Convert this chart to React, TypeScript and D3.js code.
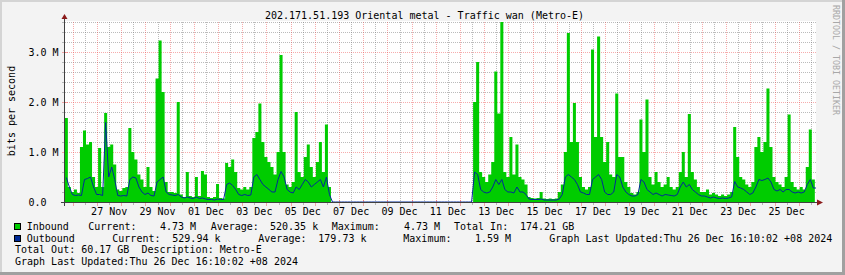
import React from 'react';
import * as d3 from 'd3';

const W = 845;
const H = 275;

const TITLE = '202.171.51.193 Oriental metal - Traffic wan (Metro-E)';
const Y_LABEL = 'bits per second';
const WATERMARK = 'RRDTOOL / TOBI OETIKER';

// time window (UTC used as wall clock)
const START = Date.UTC(2024, 10, 25, 16, 10);
const END = Date.UTC(2024, 11, 26, 16, 10);
const DATA_START = Date.UTC(2024, 10, 25, 16, 0);
const STEP_HOURS = 3;

// Inbound traffic, Mbit/s, one value per 3 hours
const INBOUND = [
  1.68, 0.3, 0.2, 0.25, 0.18, 1.1, 1.43, 1.15, 1.2, 0.5,
  0.3, 1.08, 0.3, 1.78, 1.1, 1.15, 0.75, 0.25, 0.22, 0.28,
  0.3, 1.48, 1.0, 0.85, 0.55, 0.45, 0.3, 0.7, 0.3, 0.22,
  2.47, 3.23, 2.2, 0.4, 0.2, 0.2, 0.18, 2.0, 0.15, 0.1,
  0.6, 0.12, 0.1, 0.5, 0.12, 0.62, 0.55, 0.1, 0.08, 0.1,
  0.36, 0.08, 0.07, 0.78, 0.7, 0.85, 0.6, 0.28, 0.25, 0.3,
  0.25, 0.3, 1.28, 1.4, 1.97, 1.2, 0.9, 0.8, 0.7, 0.55,
  1.0, 2.94, 1.0, 0.35, 0.3, 0.4, 1.8, 0.6, 0.5, 0.9,
  1.15, 0.7, 0.5, 0.8, 1.2, 0.6, 1.55, 0.3, 0, 0,
  0, 0, 0, 0, 0, 0, 0, 0, 0, 0,
  0, 0, 0, 0, 0, 0, 0, 0, 0, 0,
  0, 0, 0, 0, 0, 0, 0, 0, 0, 0,
  0, 0, 0, 0, 0, 0, 0, 0, 0, 0,
  0, 0, 0, 0, 0, 2.0, 2.8, 0.6, 0.5, 0.4,
  0.55, 0.8, 2.61, 1.77, 3.6, 0.6, 0.5, 1.3, 0.55, 1.15,
  0.5, 0.45, 0.35, 0.1, 0.08, 0.07, 0.08, 0.2, 0.07, 0.06,
  0.07, 0.06, 0.07, 0.2, 0.35, 1.0, 3.38, 1.2, 1.98, 1.2,
  0.5, 0.3, 0.25, 0.3, 3.05, 1.3, 3.31, 1.3, 0.8, 1.2,
  0.55, 0.5, 2.17, 0.9, 0.9, 0.4, 0.3, 0.18, 0.15, 0.2,
  1.65, 1.0, 2.05, 0.5, 0.35, 0.6, 0.4, 0.3, 0.35, 0.5,
  0.3, 0.25, 0.3, 0.6, 1.0, 0.5, 1.76, 0.6, 0.45, 0.3,
  0.2, 0.2, 0.25, 0.15, 0.18, 0.15, 0.12, 0.15, 0.12, 0.15,
  0.2, 1.5, 0.9, 0.5, 0.45, 0.35, 0.3, 0.4, 1.1, 1.3,
  1.0, 1.2, 2.27, 1.1, 0.5, 0.4, 0.35, 0.3, 0.5, 1.75,
  0.4, 0.3, 0.25, 0.3, 0.25, 0.7, 1.45, 0.45, 0.45,
];

// Outbound traffic, Mbit/s, one value per 3 hours
const OUTBOUND = [
  0.49, 0.3, 0.15, 0.13, 0.14, 0.13, 0.45, 0.47, 0.5, 0.3,
  0.15, 0.15, 0.13, 1.59, 0.5, 0.7, 0.45, 0.13, 0.12, 0.13,
  0.12, 0.45, 0.5, 0.48, 0.3, 0.2, 0.15, 0.18, 0.13, 0.12,
  0.4, 0.45, 0.5, 0.2, 0.15, 0.14, 0.13, 0.15, 0.1, 0.08,
  0.1, 0.08, 0.07, 0.1, 0.07, 0.08, 0.06, 0.05, 0.05, 0.04,
  0.06, 0.05, 0.05, 0.35, 0.38, 0.33, 0.25, 0.15, 0.13, 0.15,
  0.13, 0.14, 0.5, 0.55, 0.45, 0.35, 0.3, 0.25, 0.2, 0.2,
  0.45, 0.61, 0.5, 0.25, 0.2, 0.18, 0.3, 0.25, 0.35, 0.45,
  0.4, 0.3, 0.35, 0.4, 0.45, 0.3, 0.5, 0.15, 0, 0,
  0, 0, 0, 0, 0, 0, 0, 0, 0, 0,
  0, 0, 0, 0, 0, 0, 0, 0, 0, 0,
  0, 0, 0, 0, 0, 0, 0, 0, 0, 0,
  0, 0, 0, 0, 0, 0, 0, 0, 0, 0,
  0, 0, 0, 0, 0, 0.6, 0.55, 0.25, 0.2, 0.18,
  0.2, 0.3, 0.45, 0.35, 0.45, 0.25, 0.2, 0.2, 0.18, 0.3,
  0.2, 0.2, 0.15, 0.06, 0.05, 0.05, 0.05, 0.06, 0.04, 0.04,
  0.04, 0.04, 0.04, 0.06, 0.15, 0.5, 0.55, 0.5, 0.45, 0.35,
  0.2, 0.18, 0.15, 0.15, 0.45, 0.5, 0.55, 0.45, 0.2, 0.15,
  0.15, 0.2, 0.55, 0.5, 0.3, 0.2, 0.15, 0.12, 0.12, 0.15,
  0.45, 0.4, 0.25, 0.2, 0.15, 0.18, 0.15, 0.12, 0.15, 0.14,
  0.13, 0.12, 0.15, 0.3, 0.4, 0.3, 0.35, 0.25, 0.2, 0.15,
  0.12, 0.12, 0.1, 0.08, 0.1, 0.08, 0.07, 0.08, 0.07, 0.08,
  0.1, 0.41, 0.3, 0.28, 0.25, 0.2, 0.15, 0.18, 0.3, 0.45,
  0.43, 0.45, 0.48, 0.4, 0.25, 0.22, 0.25, 0.2, 0.25, 0.25,
  0.2, 0.18, 0.2, 0.18, 0.2, 0.35, 0.45, 0.28, 0.28,
];

const Y_TICKS = [0, 1, 2, 3];
const Y_TICK_LABELS = ['0.0', '1.0 M', '2.0 M', '3.0 M'];
const Y_MAX = 3.6;
const Y_MINOR = 0.2;

const X_TICK_LABELS = [
  '27 Nov', '29 Nov', '01 Dec', '03 Dec', '05 Dec', '07 Dec', '09 Dec', '11 Dec',
  '13 Dec', '15 Dec', '17 Dec', '19 Dec', '21 Dec', '23 Dec', '25 Dec',
];

const IN_LEGEND = ['Inbound', 'Current:', '4.73 M', 'Average:', '520.35 k', 'Maximum:', '4.73 M', 'Total In:', '174.21 GB'];
const OUT_LEGEND = ['Outbound', 'Current:', '529.94 k', 'Average:', '179.73 k', 'Maximum:', '1.59 M', 'Graph Last Updated:Thu 26 Dec 16:10:02 +08 2024'];
const FOOT_LINES = ['Total Out: 60.17 GB  Description: Metro-E', 'Graph Last Updated:Thu 26 Dec 16:10:02 +08 2024'];

const GREEN = '#00CC00';
const BLUE = '#002A97';
const FONT = '"DejaVu Sans Mono", monospace';

type Pt = { t: number; v: number };

export default function App() {
  const X0 = 65, X1 = 815, Y0 = 202, Y1 = 22;
  const x = d3.scaleUtc().domain([new Date(START), new Date(END)]).range([X0, X1]);
  const y = d3.scaleLinear().domain([0, Y_MAX]).range([Y0, Y1]);
  const stepMs = STEP_HOURS * 3600 * 1000;

  const inData: Pt[] = INBOUND.map((v, i) => ({ t: DATA_START + i * stepMs, v }));
  const outData: Pt[] = OUTBOUND.map((v, i) => ({ t: DATA_START + i * stepMs, v }));

  const area = d3.area<Pt>()
    .x(d => x(new Date(d.t)))
    .y0(y(0))
    .y1(d => y(d.v))
    .curve(d3.curveStepAfter);
  const line = d3.line<Pt>()
    .x(d => x(new Date(d.t + stepMs / 2)))
    .y(d => y(d.v));

  const px = (v: number) => Math.round(v) + 0.5;

  const halfDays = d3.utcHour.every(12)!.range(new Date(START), new Date(END));
  const minorX = halfDays.filter(d => d.getUTCHours() !== 0);
  const majorX = halfDays.filter(d => d.getUTCHours() === 0);

  const yGrid = d3.range(1, Math.round(Y_MAX / Y_MINOR) + 1).map(k => k * Y_MINOR);
  const minorY = yGrid.filter(v => Math.abs(v - Math.round(v)) > 1e-6);
  const majorY = Y_TICKS.filter(v => v > 0);

  const parseLabel = d3.utcParse('%d %b %Y');
  const labelPos = X_TICK_LABELS.map(s => {
    const d = parseLabel(`${s} 2024`)!;
    return { s, t: d.getTime() + 12 * 3600 * 1000 };
  });

  const gridGray = 'rgba(120,120,120,0.5)';
  const gridRed = 'rgba(235,70,70,0.45)';

  const inX = [26.7, 88.3, 160, 210.7, 270, 331.7, 404, 454, 520];
  const outX = [26.7, 112.3, 172.3, 258.3, 318.3, 403.3, 475, 549.3];

  return (
    <svg width={W} height={H} style={{ position: 'absolute', left: 0, top: 0 }}
      fontFamily={FONT} fontSize={10}>
      <defs>
        <clipPath id="plotclip">
          <rect x={X0} y={Y1 - 1} width={X1 - X0 + 1} height={Y0 - Y1 + 3} />
        </clipPath>
      </defs>
      {/* background + shading frame */}
      <rect x={0} y={0} width={W} height={H} fill="#F3F3F3" />
      <rect x={0} y={0} width={W} height={2} fill="#D4D4D4" />
      <rect x={0} y={0} width={2} height={H} fill="#D4D4D4" />
      <rect x={0} y={H - 3} width={W} height={3} fill="#A0A0A0" />
      <rect x={W - 3} y={0} width={3} height={H} fill="#A0A0A0" />

      {/* canvas */}
      <rect x={X0} y={Y1 - 1} width={X1 - X0 + 1} height={Y0 - Y1 + 1} fill="#FFFFFF" />

      {/* grid */}
      <g strokeWidth={1} shapeRendering="crispEdges">
        {minorY.map(v => (
          <line key={`my${v}`} x1={X0} x2={X1 + 1} y1={px(y(v))} y2={px(y(v))} stroke={gridGray} strokeDasharray="1,1" />
        ))}
        {minorX.map(d => (
          <line key={`mx${d.getTime()}`} x1={px(x(d))} x2={px(x(d))} y1={Y1} y2={Y0} stroke={gridGray} strokeDasharray="1,1" />
        ))}
        {majorY.map(v => (
          <line key={`My${v}`} x1={X0} x2={X1 + 1} y1={px(y(v))} y2={px(y(v))} stroke={gridRed} strokeDasharray="1,1" />
        ))}
        {majorX.map(d => (
          <line key={`Mx${d.getTime()}`} x1={px(x(d))} x2={px(x(d))} y1={Y1} y2={Y0} stroke={gridRed} strokeDasharray="1,1" />
        ))}
        {minorX.map(d => (
          <line key={`tx${d.getTime()}`} x1={px(x(d))} x2={px(x(d))} y1={Y0 + 1} y2={Y0 + 3} stroke={gridGray} />
        ))}
        {majorX.map(d => (
          <line key={`Tx${d.getTime()}`} x1={px(x(d))} x2={px(x(d))} y1={Y0 - 2} y2={Y0 + 4} stroke={gridRed} />
        ))}
        {minorY.map(v => (
          <line key={`ty${v}`} x1={X0 - 3} x2={X0} y1={px(y(v))} y2={px(y(v))} stroke={gridGray} />
        ))}
        {majorY.map(v => (
          <line key={`Ty${v}`} x1={X0 - 3} x2={X0 + 3} y1={px(y(v))} y2={px(y(v))} stroke={gridRed} />
        ))}
      </g>

      {/* data */}
      <g clipPath="url(#plotclip)">
        <path d={area(inData) ?? ''} fill={GREEN} />
        <path d={line(outData) ?? ''} fill="none" stroke={BLUE} strokeWidth={1} />
      </g>

      {/* axes */}
      <g shapeRendering="crispEdges">
        <line x1={X0 - 4} x2={X1 + 3} y1={Y0 + 0.5} y2={Y0 + 0.5} stroke="#404040" />
        <line x1={X0 - 0.5} x2={X0 - 0.5} y1={Y0 + 4} y2={Y1 - 3} stroke="#404040" />
      </g>
      <path d={`M${X1 + 2},${Y0 - 2.5} L${X1 + 8},${Y0 + 0.5} L${X1 + 2},${Y0 + 3.5} Z`} fill="#8B1A1A" />
      <path d={`M${X0 - 3.5},${Y1 - 3} L${X0 - 0.5},${Y1 - 8} L${X0 + 2.5},${Y1 - 3} Z`} fill="#8B1A1A" />

      {/* title */}
      <text x={424.5} y={19} textAnchor="middle" fill="#000">{TITLE}</text>

      {/* watermark */}
      <text transform="translate(833,5) rotate(90)" fontSize={8.3} fill="#A8A8A8">{WATERMARK}</text>

      {/* y axis label */}
      <text transform="translate(14.5,111) rotate(-90)" textAnchor="middle" fill="#000">{Y_LABEL}</text>

      {/* y tick labels */}
      {Y_TICKS.map((v, i) => (
        <text key={`yl${v}`} x={28.5} y={y(v) + 3.5} fill="#000" style={{ whiteSpace: 'pre' }}>{Y_TICK_LABELS[i]}</text>
      ))}

      {/* x tick labels */}
      {labelPos.map(l => (
        <text key={l.s} x={x(new Date(l.t))} y={214.5} textAnchor="middle" fill="#000">{l.s}</text>
      ))}

      {/* legend */}
      <rect x={14.5} y={223.5} width={6} height={6} fill={GREEN} stroke="#000" strokeWidth={1} shapeRendering="crispEdges" />
      <rect x={14.5} y={235.5} width={6} height={6} fill={BLUE} stroke="#000" strokeWidth={1} shapeRendering="crispEdges" />
      {IN_LEGEND.map((s, i) => (
        <text key={`in${i}`} x={inX[i]} y={230} fill="#000" style={{ whiteSpace: 'pre' }}>{s}</text>
      ))}
      {OUT_LEGEND.map((s, i) => (
        <text key={`out${i}`} x={outX[i]} y={241.7} fill="#000" style={{ whiteSpace: 'pre' }}>{s}</text>
      ))}
      {FOOT_LINES.map((s, i) => (
        <text key={`f${i}`} x={15} y={253.3 + i * 11.7} fill="#000" style={{ whiteSpace: 'pre' }}>{s}</text>
      ))}
    </svg>
  );
}
